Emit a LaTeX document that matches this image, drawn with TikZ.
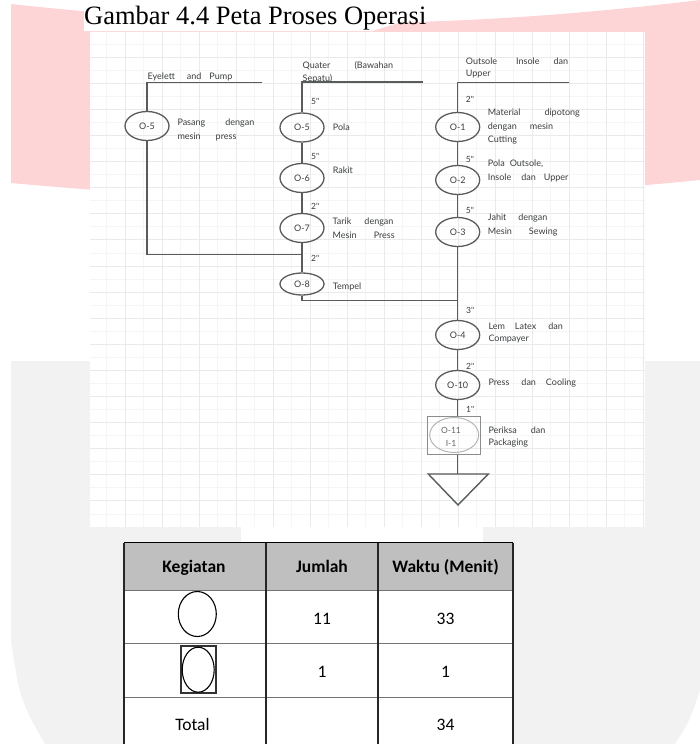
\documentclass[tikz,border=0pt]{standalone}
\usepackage{fontspec}
\setmainfont{Liberation Serif}
\newfontfamily\lato{Lato}
\newfontfamily\calib{Carlito}
\usetikzlibrary{shapes.geometric}
\usetikzlibrary{calc}

\definecolor{wmpink}{RGB}{253,213,215}
\definecolor{wmgray}{RGB}{242,242,242}
\definecolor{opline}{RGB}{88,92,92}
\definecolor{optext}{RGB}{58,62,64}
\definecolor{gridmaj}{RGB}{234,234,234}
\definecolor{gridmin}{RGB}{245,245,245}
\definecolor{headgray}{RGB}{191,191,191}

\tikzset{
	opnode/.style={draw=opline,line width=1.3pt,ellipse,minimum width=44pt,minimum height=29pt,inner sep=0pt,font=\lato\fontsize{9}{10}\selectfont,text=optext},
	oplabel/.style={anchor=west,inner sep=0pt,font=\lato\fontsize{9}{10}\selectfont,text=optext},
	timelabel/.style={anchor=west,inner sep=0pt,font=\lato\fontsize{8.5}{9}\selectfont,text=optext},
	flow/.style={draw=opline,line width=1.4pt},
	cellhead/.style={anchor=base,inner sep=0pt,font=\calib\bfseries\fontsize{17.5}{20}\selectfont},
	cell/.style={anchor=base,inner sep=0pt,font=\calib\fontsize{17.5}{20}\selectfont},
}

\begin{document}
\begin{tikzpicture}[x=1pt,y=-1pt]
		\useasboundingbox (0,0) rectangle (700,744);
		% watermark behind the page
		\fill[wmpink] (11,4) .. controls (250,30) and (450,30) .. (700,0) -- (700,180) .. controls (450,205) and (250,205) .. (11,183) -- cycle;
		\fill[white] (84,0) -- (440,0) .. controls (415,18) .. (372,31) -- (84,31) -- cycle;
		\fill[wmgray] (11,361) -- (700,361) -- (700,690) .. controls (690,720) .. (675,744) -- (45,744) .. controls (20,700) .. (11,640) -- cycle;
		\node[anchor=base west,inner sep=0pt,font=\fontsize{26.5}{30}\selectfont] (title) at (84,24) {Gambar 4.4 Peta Proses Operasi};
		% the chart sheet
		\fill[white] (90,31.8) rectangle (645,527);
		\fill[white] (241,527) rectangle (483,542.5);
		\begin{scope}
		\clip (90,31.8) rectangle (645,527);
		\foreach \gx in {0,...,14} \draw[gridmin,line width=0.6pt] ({106.5+37*\gx},31.8) -- ++(0,495.2);
		\foreach \gy in {0,...,18} \draw[gridmin,line width=0.6pt] (90,{44.05+26.1*\gy}) -- ++(555,0);
		\foreach \gx in {0,...,14} \draw[gridmaj,line width=0.8pt] ({125+37*\gx},31.8) -- ++(0,495.2);
		\foreach \gy in {1,...,18} \draw[gridmaj,line width=0.8pt] (90,{31+26.1*\gy}) -- ++(555,0);
		\end{scope}

		\node[opnode] (o5a) at (147,126) {O-5};
		\node[opnode] (o5b) at (302,127.5) {O-5};
		\node[opnode] (o6) at (302,178) {O-6};
		\node[opnode] (o7) at (302,228) {O-7};
		\node[opnode,minimum height=22pt] (o8) at (302,284) {O-8};
		\node[opnode] (o1) at (457.7,127) {O-1};
		\node[opnode] (o2) at (457.7,180) {O-2};
		\node[opnode] (o3) at (457.7,232) {O-3};
		\node[opnode] (o4) at (457.7,335) {O-4};
		\node[opnode] (o10) at (457.7,385) {O-10};
		\node[draw=opline!70,line width=1pt,minimum width=53pt,minimum height=38pt,inner sep=0pt] (o11) at (454.2,435) {};
		\node[draw=opline!45,line width=1pt,ellipse,minimum width=49pt,minimum height=35pt,inner sep=0pt] (o11c) at (o11) {};
		\node[align=center,inner sep=0pt,font=\lato\fontsize{8.5}{13}\selectfont,text=optext!80] (o11t) at (451,436.5) {O-11\\I-1};

		\coordinate (e5top) at (262,82.6);
		\coordinate (join1) at (302,254.3);
		\coordinate (qtop) at (422.7,82);
		\coordinate (join2) at (457.7,300.7);
		\coordinate (otop) at (569.3,82.7);
		\coordinate (trl) at (428.3,474);
		\coordinate (trr) at (488.3,474);
		\coordinate (trb) at (458,505);
		\draw[flow] (e5top) -- (o5a.north |- e5top) -- (o5a.north);
		\draw[flow] (o5a.south) -- (o5a.south |- join1) -- (join1);
		\draw[flow] (qtop) -- (o5b.north |- qtop) -- (o5b.north);
		\draw[flow] (o5b) -- (o6);
		\draw[flow] (o6) -- (o7);
		\draw[flow] (o7) -- (o8);
		\draw[flow] (o8.south) -- (o8.south |- join2) -- (join2);
		\draw[flow] (otop) -- (o1.north |- otop) -- (o1.north);
		\draw[flow] (o1) -- (o2);
		\draw[flow] (o2) -- (o3);
		\draw[flow] (o3) -- (o4);
		\draw[flow] (o4) -- (o10);
		\draw[flow] (o10.south) -- (o10.south |- o11.north);
		\draw[flow] (o10.south |- o11.south) -- (o10.south |- trl);
		\draw[flow,line join=miter] (trl) -- (trr) -- (trb) -- cycle;

		\node[oplabel] (l5a) at (147.5,76.7) {Eyelett\hspace{12pt}and\hspace{8pt}Pump};
		\node[oplabel] (l5a1) at (177.3,123.3) {Pasang\hspace{20pt}dengan};
		\node[oplabel] (l5a2) at (177.3,136.7) {mesin\hspace{15pt}press};
		\node[oplabel] (lq1) at (302.5,65.7) {Quater\hspace{24pt}(Bawahan};
		\node[oplabel] (lq2) at (302.5,78.5) {Sepatu)};
		\node[oplabel] (l5b) at (332.7,127.7) {Pola};
		\node[oplabel] (l6) at (332.7,170) {Rakit};
		\node[oplabel] (l7a) at (332.5,221.7) {Tarik\hspace{13pt}dengan};
		\node[oplabel] (l7b) at (332.5,235) {Mesin\hspace{17pt}Press};
		\node[oplabel] (l8) at (332.7,286.7) {Tempel};
		\node[oplabel] (lo1) at (465.7,61) {Outsole\hspace{19pt}Insole\hspace{14pt}dan};
		\node[oplabel] (lo2) at (465.7,74) {Upper};
		\node[oplabel] (l1a) at (487.7,113.3) {Material\hspace{24pt}dipotong};
		\node[oplabel] (l1b) at (487.7,126.7) {dengan\hspace{13pt}mesin};
		\node[oplabel] (l1c) at (487.7,140) {Cutting};
		\node[oplabel] (l2a) at (487.7,164) {Pola\hspace{5pt}Outsole,};
		\node[oplabel] (l2b) at (487.7,178.3) {Insole\hspace{10pt}dan\hspace{8pt}Upper};
		\node[oplabel] (l3a) at (487.7,218) {Jahit\hspace{12pt}dengan};
		\node[oplabel] (l3b) at (487.7,231.7) {Mesin\hspace{17pt}Sewing};
		\node[oplabel] (l4a) at (488.3,326) {Lem\hspace{10pt}Latex\hspace{12pt}dan};
		\node[oplabel] (l4b) at (488.3,339.3) {Compayer};
		\node[oplabel] (l10) at (488.3,383.3) {Press\hspace{12pt}dan\hspace{10pt}Cooling};
		\node[oplabel] (l11a) at (488.3,430) {Periksa\hspace{14pt}dan};
		\node[oplabel] (l11b) at (488.3,443.3) {Packaging};

		\node[timelabel] (t5b) at (311,101.7) {5"};
		\node[timelabel] (t6) at (311,156.7) {5"};
		\node[timelabel] (t7) at (311,206.7) {2"};
		\node[timelabel] (t8) at (311,258.3) {2"};
		\node[timelabel] (t1) at (465.7,99.3) {2"};
		\node[timelabel] (t2) at (465.7,159.3) {5"};
		\node[timelabel] (t3) at (465.7,210.7) {5"};
		\node[timelabel] (t4) at (466,310) {3"};
		\node[timelabel] (t10) at (466,366.7) {2"};
		\node[timelabel] (t11) at (466,409.3) {1"};

		% summary table
		\fill[white] (124,542.5) rectangle (513,750);
		\fill[headgray] (124,542.5) rectangle (513,590);
		\foreach \ry in {590,643,697} \draw[black!55,line width=1pt] (124,\ry) -- (513,\ry);
		\draw[black,line width=1.1pt] (124,542.5) -- (513,542.5);
		\foreach \cx in {124,266,378,513} \draw[black!85,line width=1.1pt] (\cx,542.5) -- (\cx,744);
		\node[cellhead] (hkeg) at (194,572.5) {Kegiatan};
		\node[cellhead] (hjum) at (322,572.5) {Jumlah};
		\node[cellhead] (hwak) at (445.5,572.5) {Waktu (Menit)};
		\node[draw,line width=1.1pt,ellipse,minimum width=38pt,minimum height=45pt,inner sep=0pt] (sym1) at (197.3,614) {};
		\node[cell] (n1) at (322,624) {11};
		\node[cell] (w1) at (445.5,624) {33};
		\node[draw=black!80,line width=1.6pt,minimum width=35pt,minimum height=47pt,inner sep=0pt] (sym2) at (198.2,669.7) {};
		\node[draw,line width=1.1pt,ellipse,minimum width=32pt,minimum height=45pt,inner sep=0pt] (sym2c) at (sym2) {};
		\node[cell] (n2) at (322,677.7) {1};
		\node[cell] (w2) at (445.5,677.7) {1};
		\node[cell] (tot) at (192.5,730) {Total};
		\node[cell] (w3) at (445.5,730) {34};
\end{tikzpicture}
\end{document}
